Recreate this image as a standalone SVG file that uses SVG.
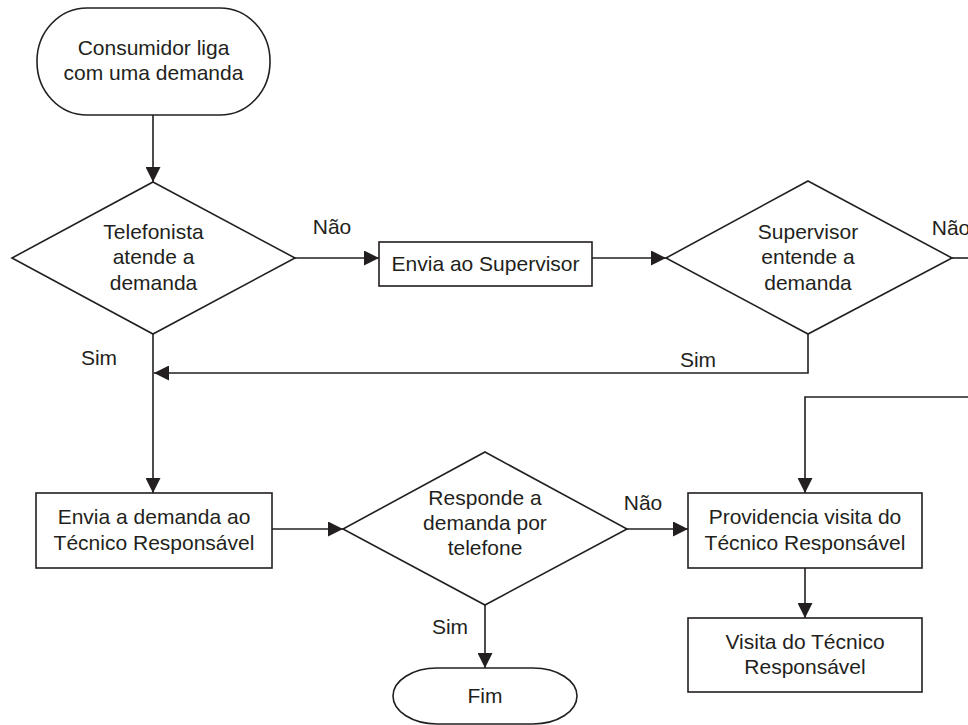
<svg xmlns="http://www.w3.org/2000/svg" width="968" height="725" viewBox="0 0 968 725">
<style>
.s{fill:#fff;stroke:#231f20;stroke-width:1.6}
.c{fill:none;stroke:#231f20;stroke-width:1.6}
text{font-family:"Liberation Sans",Arial,sans-serif;font-size:21px;fill:#231f20;text-anchor:middle}
</style>
<defs>
<marker id="a" markerUnits="userSpaceOnUse" markerWidth="15" markerHeight="15" refX="15" refY="7.5" orient="auto">
<path d="M0,0 L15,7.5 L0,15 z" fill="#231f20"/>
</marker>
</defs>
<rect width="968" height="725" fill="#fff"/>
<g id="connectors">
<line class="c" x1="153" y1="115" x2="153" y2="182" marker-end="url(#a)"/>
<line class="c" x1="295" y1="258" x2="379" y2="258" marker-end="url(#a)"/>
<line class="c" x1="592" y1="258" x2="666" y2="258" marker-end="url(#a)"/>
<line class="c" x1="952" y1="258" x2="968" y2="258"/>
<polyline class="c" points="808,334 808,373 154,373" marker-end="url(#a)"/>
<line class="c" x1="153" y1="334" x2="153" y2="493" marker-end="url(#a)"/>
<line class="c" x1="272" y1="529" x2="343" y2="529" marker-end="url(#a)"/>
<line class="c" x1="627" y1="529" x2="688" y2="529" marker-end="url(#a)"/>
<polyline class="c" points="968,397 805,397 805,493" marker-end="url(#a)"/>
<line class="c" x1="805" y1="568" x2="805" y2="618" marker-end="url(#a)"/>
<line class="c" x1="485" y1="605" x2="485" y2="668" marker-end="url(#a)"/>
<text x="332" y="234">Não</text>
<text x="951" y="235">Não</text>
<text x="698" y="367">Sim</text>
<text x="99" y="365">Sim</text>
<text x="643" y="510">Não</text>
<text x="450" y="634">Sim</text>
</g>
<g id="start">
<rect class="s" x="37" y="8" width="233" height="107" rx="50" ry="53"/>
<text x="153.5" y="55">Consumidor liga</text>
<text x="153.5" y="80">com uma demanda</text>
</g>
<g id="d1">
<polygon class="s" points="153,182 295,258 153,334 12,258"/>
<text x="153.5" y="239">Telefonista</text>
<text x="153.5" y="264">atende a</text>
<text x="153.5" y="290">demanda</text>
</g>
<g id="supervisor">
<rect class="s" x="379" y="242" width="213" height="44"/>
<text x="485.5" y="271">Envia ao Supervisor</text>
</g>
<g id="d2">
<polygon class="s" points="808,181 952,258 808,334 666,258"/>
<text x="808" y="239">Supervisor</text>
<text x="808" y="264">entende a</text>
<text x="808" y="290">demanda</text>
</g>
<g id="envia">
<rect class="s" x="36" y="493" width="236" height="75"/>
<text x="154" y="524">Envia a demanda ao</text>
<text x="154" y="550">Técnico Responsável</text>
</g>
<g id="d3">
<polygon class="s" points="485,452 627,529 485,605 343,529"/>
<text x="485" y="505">Responde a</text>
<text x="485" y="530">demanda por</text>
<text x="485" y="555">telefone</text>
</g>
<g id="providencia">
<rect class="s" x="688" y="493" width="234" height="75"/>
<text x="805" y="524">Providencia visita do</text>
<text x="805" y="550">Técnico Responsável</text>
</g>
<g id="visita">
<rect class="s" x="688" y="618" width="234" height="74"/>
<text x="805" y="649">Visita do Técnico</text>
<text x="805" y="674">Responsável</text>
</g>
<g id="fim">
<rect class="s" x="393" y="668" width="184" height="56" rx="44" ry="28"/>
<text x="485" y="703">Fim</text>
</g>
</svg>
